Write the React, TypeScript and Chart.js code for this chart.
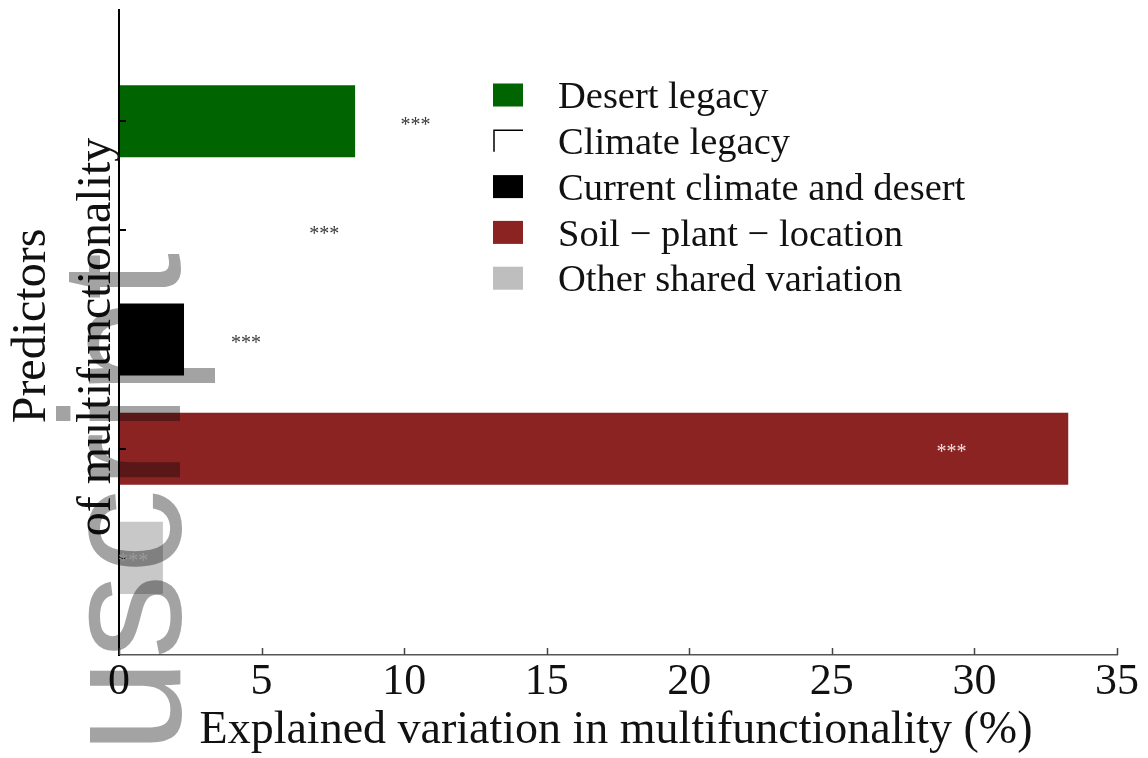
import React, { useEffect, useRef } from "react";
import { Chart, registerables } from "chart.js";

Chart.register(...registerables);

// ---------- data ----------
const categories = [
  "Desert legacy",
  "Climate legacy",
  "Current climate and desert",
  "Soil \u2212 plant \u2212 location",
  "Other shared variation",
];
const values = [8.28, 5.1, 2.28, 33.29, 1.54];
const categoryIndex = [1, 2, 3, 4, 5];
const barColors = ["#006400", "#ffffff", "#000000", "#8b2323", "#c8c8c8"];
const legendColors = ["#006400", "#ffffff", "#000000", "#8b2323", "#bebebe"];
const significance = ["***", "***", "***", "***", "***"];
const starPositions = [10.4, 7.2, 4.45, 29.2, 0.5];
const starColors = ["#3a3a3a", "#3a3a3a", "#3a3a3a", "#f4dede", "#f0f0f0"];
const xTicks = [0, 5, 10, 15, 20, 25, 30, 35];
const xTitle = "Explained variation in multifunctionality (%)";
const yTitleLines = ["Predictors", "of multifunctionality"];
const watermarkText = "uscript";

const SERIF = "'Liberation Serif', 'Times New Roman', serif";

const overlayPlugin = {
  id: "overlay",
  beforeDraw(chart: any) {
    const ctx = chart.ctx;
    ctx.save();
    ctx.fillStyle = "#ffffff";
    ctx.fillRect(0, 0, chart.width, chart.height);
    ctx.restore();
  },
  afterDraw(chart: any) {
    const ctx = chart.ctx;
    const xs = chart.scales.x;
    const ys = chart.scales.y;
    const area = chart.chartArea;
    ctx.save();

    // y axis line on top of bars
    ctx.strokeStyle = "#000";
    ctx.lineWidth = 2;
    ctx.beginPath();
    ctx.moveTo(area.left, area.top);
    ctx.lineTo(area.left, area.bottom);
    ctx.stroke();

    // inward tick marks
    ctx.strokeStyle = "#444";
    ctx.lineWidth = 1.5;
    xTicks.forEach((v) => {
      const px = Math.round(xs.getPixelForValue(v)) + 0.5;
      ctx.beginPath();
      ctx.moveTo(px, area.bottom);
      ctx.lineTo(px, area.bottom - 7);
      ctx.stroke();
    });
    ctx.strokeStyle = "#000";
    ctx.lineWidth = 2;
    categoryIndex.forEach((c) => {
      const py = Math.round(ys.getPixelForValue(c));
      ctx.beginPath();
      ctx.moveTo(area.left, py);
      ctx.lineTo(area.left + 7, py);
      ctx.stroke();
    });

    // significance stars
    ctx.font = `20px ${SERIF}`;
    ctx.textAlign = "center";
    ctx.textBaseline = "middle";
    significance.forEach((s, i) => {
      ctx.fillStyle = starColors[i];
      ctx.fillText(s, xs.getPixelForValue(starPositions[i]), ys.getPixelForValue(categoryIndex[i]) + 4);
    });

    // legend
    const lx = 493;
    const ly0 = 95;
    const lstep = 45.8;
    ctx.font = `38.5px ${SERIF}`;
    ctx.textAlign = "left";
    ctx.textBaseline = "middle";
    categories.forEach((c, i) => {
      const cy = ly0 + i * lstep;
      ctx.fillStyle = legendColors[i];
      ctx.fillRect(lx, cy - 11.5, 30, 23);
      if (legendColors[i] === "#ffffff") {
        ctx.strokeStyle = "#000";
        ctx.lineWidth = 1.5;
        ctx.beginPath();
        ctx.moveTo(lx + 1, cy + 11);
        ctx.lineTo(lx + 1, cy - 10.5);
        ctx.lineTo(lx + 30, cy - 10.5);
        ctx.stroke();
      }
      ctx.fillStyle = "#111";
      ctx.fillText(c, 558, cy + 3);
    });

    // axis titles
    ctx.fillStyle = "#111";
    ctx.font = `46px ${SERIF}`;
    ctx.textAlign = "center";
    ctx.textBaseline = "alphabetic";
    ctx.fillText(xTitle, 616, 743);

    ctx.font = `48px ${SERIF}`;
    const lineX = [45, 110];
    const lineY = [326, 337];
    yTitleLines.forEach((t, i) => {
      ctx.save();
      ctx.translate(lineX[i], lineY[i]);
      ctx.rotate(-Math.PI / 2);
      ctx.fillText(t, 0, 0);
      ctx.restore();
    });

    // watermark
    ctx.save();
    ctx.globalCompositeOperation = "multiply";
    ctx.fillStyle = "rgb(163,163,163)";
    ctx.font = `170px 'Liberation Sans', Arial, sans-serif`;
    ctx.textAlign = "left";
    ctx.textBaseline = "alphabetic";
    ctx.translate(180, 753.5);
    ctx.rotate(-Math.PI / 2);
    ctx.fillText(watermarkText, 0, 0);
    ctx.restore();

    ctx.restore();
  },
};

export default function App() {
  const canvasRef = useRef<HTMLCanvasElement | null>(null);

  useEffect(() => {
    if (!canvasRef.current) return;
    const chart = new Chart(canvasRef.current, {
      type: "bar",
      data: {
        datasets: [
          {
            label: "Explained variation",
            data: values.map((v, i) => ({ x: v, y: categoryIndex[i] })),
            backgroundColor: barColors,
            borderWidth: 0,
            categoryPercentage: 0.8,
            barPercentage: 0.825,
          },
        ],
      },
      options: {
        indexAxis: "y",
        responsive: false,
        animation: false,
        events: [],
        layout: { padding: { top: 10, right: 31, left: 0, bottom: 0 } },
        plugins: {
          legend: { display: false },
          tooltip: { enabled: false },
          title: { display: false },
        },
        scales: {
          x: {
            type: "linear",
            position: "bottom",
            min: 0,
            max: 35,
            afterBuildTicks: (scale: any) => {
              scale.ticks = xTicks.map((v) => ({ value: v }));
            },
            afterFit: (scale: any) => {
              scale.height = 103;
            },
            grid: { display: false, drawTicks: false },
            border: { display: true, color: "#555", width: 1.5 },
            ticks: {
              color: "#111",
              padding: 1,
              maxRotation: 0,
              autoSkip: false,
              font: { family: SERIF, size: 44 },
            },
          },
          y: {
            type: "linear",
            position: "left",
            reverse: true,
            offset: false,
            min: -0.02,
            max: 5.89,
            afterBuildTicks: (scale: any) => {
              scale.ticks = categoryIndex.map((v) => ({ value: v }));
            },
            afterFit: (scale: any) => {
              scale.width = 119;
            },
            grid: { display: false, drawTicks: false, offset: false },
            border: { display: true, color: "#000", width: 2 },
            ticks: { display: false },
          },
        },
      } as any,
      plugins: [overlayPlugin],
    });
    return () => chart.destroy();
  }, []);

  return (
    <div style={{ position: "fixed", left: 0, top: 0, width: 1148, height: 758, background: "#fff" }}>
      <canvas ref={canvasRef} width={1148} height={758} style={{ display: "block" }} />
    </div>
  );
}
